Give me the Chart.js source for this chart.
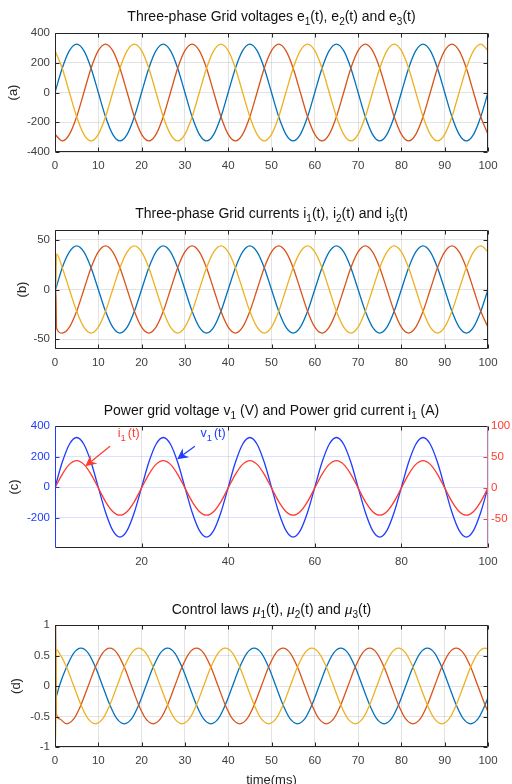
<!DOCTYPE html>
<html>
<head>
<meta charset="utf-8">
<script src="https://cdn.jsdelivr.net/npm/chart.js@4.4.1/dist/chart.umd.min.js"></script>
<style>
  body { margin: 0; width: 512px; height: 784px; background: #fff; position: relative; overflow: hidden; font-family: "Liberation Sans", Arial, sans-serif; }
  .panel { position: absolute; left: 0; width: 512px; }
  .title { position: absolute; left: 55px; width: 433px; text-align: center; font-size: 14px; line-height: 16px; color: #111; white-space: nowrap; z-index: 2; }
  .title sub { font-size: 10px; vertical-align: baseline; position: relative; top: 4px; }
  .title i { font-family: "Liberation Serif", serif; font-size: 15.5px; }
</style>
</head>
<body>

<div class="title" style="top:8px">Three-phase Grid voltages e<sub>1</sub>(t), e<sub>2</sub>(t) and e<sub>3</sub>(t)</div>
<div class="title" style="top:205px">Three-phase Grid currents i<sub>1</sub>(t), i<sub>2</sub>(t) and i<sub>3</sub>(t)</div>
<div class="title" style="top:402px">Power grid voltage v<sub>1</sub> (V) and Power grid current i<sub>1</sub> (A)</div>
<div class="title" style="top:601px">Control laws <i>μ</i><sub>1</sub>(t), <i>μ</i><sub>2</sub>(t) and <i>μ</i><sub>3</sub>(t)</div>

<div class="panel" style="top:0"><canvas id="chartA" width="512" height="196"></canvas></div>
<div class="panel" style="top:196px"><canvas id="chartB" width="512" height="196"></canvas></div>
<div class="panel" style="top:392px"><canvas id="chartC" width="512" height="196"></canvas></div>
<div class="panel" style="top:588px"><canvas id="chartD" width="512" height="200"></canvas></div>

<script>
// Valores (tiempo en ms)

const timeMs = [
  0, 1.67, 3.33, 5, 6.67, 8.33, 10, 11.67, 13.33, 15, 16.67, 18.33,
  20, 21.67, 23.33, 25, 26.67, 28.33, 30, 31.67, 33.33, 35, 36.67, 38.33,
  40, 41.67, 43.33, 45, 46.67, 48.33, 50, 51.67, 53.33, 55, 56.67, 58.33,
  60, 61.67, 63.33, 65, 66.67, 68.33, 70, 71.67, 73.33, 75, 76.67, 78.33,
  80, 81.67, 83.33, 85, 86.67, 88.33, 90, 91.67, 93.33, 95, 96.67, 98.33,
  100
];

// (a) tensiones de red
const e1 = [
  0, 163, 281, 325, 281, 163, 0, -163, -281, -325, -281, -163,
  0, 163, 281, 325, 281, 163, 0, -163, -281, -325, -281, -163,
  0, 163, 281, 325, 281, 163, 0, -163, -281, -325, -281, -163,
  0, 163, 281, 325, 281, 163, 0, -163, -281, -325, -281, -163,
  0, 163, 281, 325, 281, 163, 0, -163, -281, -325, -281, -163,
  0
];
const e2 = [
  -281, -325, -281, -163, 0, 163, 281, 325, 281, 163, 0, -163,
  -281, -325, -281, -163, 0, 163, 281, 325, 281, 163, 0, -163,
  -281, -325, -281, -163, 0, 163, 281, 325, 281, 163, 0, -163,
  -281, -325, -281, -163, 0, 163, 281, 325, 281, 163, 0, -163,
  -281, -325, -281, -163, 0, 163, 281, 325, 281, 163, 0, -163,
  -281
];
const e3 = [
  281, 163, 0, -163, -281, -325, -281, -163, 0, 163, 281, 325,
  281, 163, 0, -163, -281, -325, -281, -163, 0, 163, 281, 325,
  281, 163, 0, -163, -281, -325, -281, -163, 0, 163, 281, 325,
  281, 163, 0, -163, -281, -325, -281, -163, 0, 163, 281, 325,
  281, 163, 0, -163, -281, -325, -281, -163, 0, 163, 281, 325,
  281
];

// (b) corrientes de red (con el arranque en t = 0)
const timeB = [
  0, 0.2, 0.35, 1.67, 3.33, 5, 6.67, 8.33, 10, 11.67, 13.33, 15, 16.67, 18.33,
  20, 21.67, 23.33, 25, 26.67, 28.33, 30, 31.67, 33.33, 35, 36.67, 38.33,
  40, 41.67, 43.33, 45, 46.67, 48.33, 50, 51.67, 53.33, 55, 56.67, 58.33,
  60, 61.67, 63.33, 65, 66.67, 68.33, 70, 71.67, 73.33, 75, 76.67, 78.33,
  80, 81.67, 83.33, 85, 86.67, 88.33, 90, 91.67, 93.33, 95, 96.67, 98.33,
  100
];
const i1 = [
  0, 1, 3, 22, 38, 44, 38, 22, 0, -22, -38, -44, -38, -22,
  0, 22, 38, 44, 38, 22, 0, -22, -38, -44, -38, -22,
  0, 22, 38, 44, 38, 22, 0, -22, -38, -44, -38, -22,
  0, 22, 38, 44, 38, 22, 0, -22, -38, -44, -38, -22,
  0, 22, 38, 44, 38, 22, 0, -22, -38, -44, -38, -22,
  0
];
const i2 = [
  0, 0, -39, -44, -38, -22, 0, 22, 38, 44, 38, 22, 0, -22,
  -38, -44, -38, -22, 0, 22, 38, 44, 38, 22, 0, -22,
  -38, -44, -38, -22, 0, 22, 38, 44, 38, 22, 0, -22,
  -38, -44, -38, -22, 0, 22, 38, 44, 38, 22, 0, -22,
  -38, -44, -38, -22, 0, 22, 38, 44, 38, 22, 0, -22,
  -38
];
const i3 = [
  0, 0, 36, 22, 0, -22, -38, -44, -38, -22, 0, 22, 38, 44,
  38, 22, 0, -22, -38, -44, -38, -22, 0, 22, 38, 44,
  38, 22, 0, -22, -38, -44, -38, -22, 0, 22, 38, 44,
  38, 22, 0, -22, -38, -44, -38, -22, 0, 22, 38, 44,
  38, 22, 0, -22, -38, -44, -38, -22, 0, 22, 38, 44,
  38
];

// (c) tensión v1 (V) y corriente i1 (A)
const v1 = [
  0, 163, 281, 325, 281, 163, 0, -163, -281, -325, -281, -163,
  0, 163, 281, 325, 281, 163, 0, -163, -281, -325, -281, -163,
  0, 163, 281, 325, 281, 163, 0, -163, -281, -325, -281, -163,
  0, 163, 281, 325, 281, 163, 0, -163, -281, -325, -281, -163,
  0, 163, 281, 325, 281, 163, 0, -163, -281, -325, -281, -163,
  0
];
const i1c = [
  0, 22, 38, 44, 38, 22, 0, -22, -38, -44, -38, -22,
  0, 22, 38, 44, 38, 22, 0, -22, -38, -44, -38, -22,
  0, 22, 38, 44, 38, 22, 0, -22, -38, -44, -38, -22,
  0, 22, 38, 44, 38, 22, 0, -22, -38, -44, -38, -22,
  0, 22, 38, 44, 38, 22, 0, -22, -38, -44, -38, -22,
  0
];

// (d) leyes de control
const timeD = [
  0, 0.15, 0.3, 1, 2.67, 4.33, 6, 7.67, 9.33, 11, 12.67, 14.33, 16, 17.67, 19.33,
  21, 22.67, 24.33, 26, 27.67, 29.33, 31, 32.67, 34.33, 36, 37.67, 39.33,
  41, 42.67, 44.33, 46, 47.67, 49.33, 51, 52.67, 54.33, 56, 57.67, 59.33,
  61, 62.67, 64.33, 66, 67.67, 69.33, 71, 72.67, 74.33, 76, 77.67, 79.33,
  81, 82.67, 84.33, 86, 87.67, 89.33, 91, 92.67, 94.33, 96, 97.67, 99.33,
  100
];
const mu1 = [
  -0.19, -0.19, -0.17,
  0, 0.31, 0.54, 0.62, 0.54, 0.31, 0, -0.31, -0.54, -0.62, -0.54, -0.31,
  0, 0.31, 0.54, 0.62, 0.54, 0.31, 0, -0.31, -0.54, -0.62, -0.54, -0.31,
  0, 0.31, 0.54, 0.62, 0.54, 0.31, 0, -0.31, -0.54, -0.62, -0.54, -0.31,
  0, 0.31, 0.54, 0.62, 0.54, 0.31, 0, -0.31, -0.54, -0.62, -0.54, -0.31,
  0, 0.31, 0.54, 0.62, 0.54, 0.31, 0, -0.31, -0.54, -0.62, -0.54, -0.31,
  -0.19
];
const mu2 = [
  1, 1, -0.45,
  -0.54, -0.62, -0.54, -0.31, 0, 0.31, 0.54, 0.62, 0.54, 0.31, 0, -0.31,
  -0.54, -0.62, -0.54, -0.31, 0, 0.31, 0.54, 0.62, 0.54, 0.31, 0, -0.31,
  -0.54, -0.62, -0.54, -0.31, 0, 0.31, 0.54, 0.62, 0.54, 0.31, 0, -0.31,
  -0.54, -0.62, -0.54, -0.31, 0, 0.31, 0.54, 0.62, 0.54, 0.31, 0, -0.31,
  -0.54, -0.62, -0.54, -0.31, 0, 0.31, 0.54, 0.62, 0.54, 0.31, 0, -0.31,
  -0.42
];
const mu3 = [
  -1, -1, 0.6,
  0.54, 0.31, 0, -0.31, -0.54, -0.62, -0.54, -0.31, 0, 0.31, 0.54, 0.62,
  0.54, 0.31, 0, -0.31, -0.54, -0.62, -0.54, -0.31, 0, 0.31, 0.54, 0.62,
  0.54, 0.31, 0, -0.31, -0.54, -0.62, -0.54, -0.31, 0, 0.31, 0.54, 0.62,
  0.54, 0.31, 0, -0.31, -0.54, -0.62, -0.54, -0.31, 0, 0.31, 0.54, 0.62,
  0.54, 0.31, 0, -0.31, -0.54, -0.62, -0.54, -0.31, 0, 0.31, 0.54, 0.62,
  0.61
];

// Marcas de los ejes
const xTicks = [0, 10, 20, 30, 40, 50, 60, 70, 80, 90, 100];
const xTicksC = [20, 40, 60, 80, 100];
const yTicksA = [-400, -200, 0, 200, 400];
const yTicksB = [-50, 0, 50];
const yTicksCLeft = [-200, 0, 200, 400];
const yTicksCRight = [-50, 0, 50, 100];
const yTicksD = [-1, -0.5, 0, 0.5, 1];

// Estilos
const FONT = '"Liberation Sans", Arial, sans-serif';
const BLUE = '#0072BD';
const ORANGE = '#D95319';
const YELLOW = '#EDB120';
const BLUE_C = '#1f3cff';
const RED_C = '#ff3a2e';
const AXIS = '#262626';
const TICK_TXT = '#404040';
const GRID = 'rgba(0,0,0,0.11)';

// Caja estilo MATLAB con marcas hacia dentro
const boxPlugin = {
  id: 'box',
  afterDraw(chart, args, o) {
    const { ctx, chartArea: a, scales } = chart;
    const L = Math.round(a.left) + 0.5, R = Math.round(a.right) - 0.5;
    const T = Math.round(a.top) + 0.5, B = Math.round(a.bottom) - 0.5;
    const len = 4;
    ctx.save();
    ctx.lineWidth = 1;
    const seg = (x1, y1, x2, y2, c) => {
      ctx.strokeStyle = c;
      ctx.beginPath(); ctx.moveTo(x1, y1); ctx.lineTo(x2, y2); ctx.stroke();
    };
    scales.x.ticks.forEach(t => {
      const px = Math.round(scales.x.getPixelForValue(t.value)) + 0.5;
      seg(px, B, px, B - len, o.bottom);
      seg(px, T, px, T + len, o.top);
    });
    const yl = scales[o.leftAxis || 'y'];
    const yr = scales[o.rightAxis || 'y'];
    yl.ticks.forEach(t => {
      const py = Math.round(yl.getPixelForValue(t.value)) + 0.5;
      seg(L, py, L + len, py, o.leftTick || o.left);
    });
    yr.ticks.forEach(t => {
      const py = Math.round(yr.getPixelForValue(t.value)) + 0.5;
      seg(R, py, R - len, py, o.rightTick || o.right);
    });
    seg(L, T, R, T, o.top);
    seg(L, B, R, B, o.bottom);
    seg(L, T, L, B, o.left);
    seg(R, T, R, B, o.right);
    ctx.restore();
  }
};

// Anotaciones con flecha del panel (c), en coordenadas de datos
const notesC = [
  { text: 'i', sub: '1', tail: '(t)', color: RED_C, x: 17, y: 352, from: [12.7, 268], to: [7.0, 138] },
  { text: 'v', sub: '1', tail: '(t)', color: BLUE_C, x: 36.5, y: 352, from: [32.3, 268], to: [28.2, 183] }
];

const notesPlugin = {
  id: 'notes',
  afterDatasetsDraw(chart, args, o) {
    if (!o.items) return;
    const { ctx, scales } = chart;
    const xs = scales.x, ys = scales.y;
    ctx.save();
    o.items.forEach(n => {
      // texto con subíndice
      ctx.fillStyle = n.color;
      ctx.textBaseline = 'middle';
      ctx.textAlign = 'left';
      const big = '12.5px ' + FONT, small = '9.5px ' + FONT;
      ctx.font = big; const w1 = ctx.measureText(n.text).width;
      const w3 = ctx.measureText(n.tail).width;
      ctx.font = small; const w2 = ctx.measureText(n.sub).width + 2;
      const cx = xs.getPixelForValue(n.x), cy = ys.getPixelForValue(n.y);
      const x0 = cx - (w1 + w2 + w3) / 2;
      ctx.font = big; ctx.fillText(n.text, x0, cy);
      ctx.font = small; ctx.fillText(n.sub, x0 + w1, cy + 5);
      ctx.font = big; ctx.fillText(n.tail, x0 + w1 + w2, cy);
      // flecha
      const x1 = xs.getPixelForValue(n.from[0]), y1 = ys.getPixelForValue(n.from[1]);
      const x2 = xs.getPixelForValue(n.to[0]), y2 = ys.getPixelForValue(n.to[1]);
      const ang = Math.atan2(y2 - y1, x2 - x1);
      const hl = 11, hw = 5.5, notch = 3.5;
      ctx.strokeStyle = n.color;
      ctx.lineWidth = 1.2;
      ctx.beginPath(); ctx.moveTo(x1, y1);
      ctx.lineTo(x2 - Math.cos(ang) * (hl - notch), y2 - Math.sin(ang) * (hl - notch));
      ctx.stroke();
      ctx.translate(x2, y2); ctx.rotate(ang);
      ctx.beginPath();
      ctx.moveTo(0, 0); ctx.lineTo(-hl, -hw); ctx.lineTo(-hl + notch, 0); ctx.lineTo(-hl, hw);
      ctx.closePath(); ctx.fill();
      ctx.setTransform(1, 0, 0, 1, 0, 0);
    });
    ctx.restore();
  }
};

Chart.register(boxPlugin, notesPlugin);

function toPoints(time, values) {
  return time.map((t, i) => ({ x: t, y: values[i] }));
}

function lineSet(time, values, color, order, axis) {
  return {
    data: toPoints(time, values),
    borderColor: color,
    borderWidth: 1.3,
    pointRadius: 0,
    fill: false,
    cubicInterpolationMode: 'monotone',
    order: order,
    yAxisID: axis || 'y'
  };
}

function fixTicks(list) {
  return scale => { scale.ticks = list.map(v => ({ value: v })); };
}

const plainLabel = v => String(v);

function xScale(list, height, gridColor, title) {
  return {
    type: 'linear', min: 0, max: 100,
    afterBuildTicks: fixTicks(list),
    afterFit: s => { s.height = height; },
    grid: { color: gridColor || GRID, drawTicks: false },
    border: { display: false },
    ticks: { color: TICK_TXT, font: { size: 11.5, family: FONT }, padding: 7, maxRotation: 0, autoSkip: false, callback: plainLabel },
    title: title || { display: false }
  };
}

function yScale(min, max, list, label, labelPad, color, gridColor) {
  return {
    position: 'left', min: min, max: max,
    afterBuildTicks: fixTicks(list),
    afterFit: s => { s.width = 55; },
    grid: { color: gridColor || GRID, drawTicks: false },
    border: { display: false },
    ticks: { color: color || TICK_TXT, font: { size: 11.5, family: FONT }, padding: 5, callback: plainLabel },
    title: { display: true, text: label, color: AXIS, font: { size: 13, family: FONT }, padding: { top: labelPad, bottom: 0 } }
  };
}

function baseOptions(padTop, scales, plugins) {
  return {
    responsive: false,
    animation: false,
    devicePixelRatio: 1,
    layout: { padding: { top: padTop, right: scales.y2 ? 0 : 24, bottom: 0, left: 0 } },
    scales: scales,
    plugins: Object.assign({
      legend: { display: false },
      tooltip: { enabled: false },
      box: { left: AXIS, right: AXIS, top: AXIS, bottom: AXIS }
    }, plugins || {})
  };
}

// (a)
new Chart(document.getElementById('chartA'), {
  type: 'line',
  data: { datasets: [
    lineSet(timeMs, e1, BLUE, 2),
    lineSet(timeMs, e2, ORANGE, 1),
    lineSet(timeMs, e3, YELLOW, 0)
  ] },
  options: baseOptions(33, {
    x: xScale(xTicks, 44),
    y: yScale(-400, 400, yTicksA, '(a)', 6)
  })
});

// (b)
new Chart(document.getElementById('chartB'), {
  type: 'line',
  data: { datasets: [
    lineSet(timeB, i1, BLUE, 2),
    lineSet(timeB, i2, ORANGE, 1),
    lineSet(timeB, i3, YELLOW, 0)
  ] },
  options: baseOptions(34, {
    x: xScale(xTicks, 43),
    y: yScale(-60, 60, yTicksB, '(b)', 15)
  })
});

// (c)
const yC = yScale(-396, 400, yTicksCLeft, '(c)', 7, BLUE_C, 'rgba(40,70,255,0.16)');
const y2C = {
  position: 'right', min: -97, max: 100,
  afterBuildTicks: fixTicks(yTicksCRight),
  afterFit: s => { s.width = 24; },
  grid: { display: false, drawTicks: false },
  border: { display: false },
  ticks: { color: RED_C, font: { size: 11.5, family: FONT }, padding: 3, callback: plainLabel }
};
new Chart(document.getElementById('chartC'), {
  type: 'line',
  data: { datasets: [
    lineSet(timeMs, v1, BLUE_C, 1, 'y'),
    lineSet(timeMs, i1c, RED_C, 0, 'y2')
  ] },
  options: baseOptions(34, {
    x: xScale(xTicksC, 40),
    y: yC,
    y2: y2C
  }, {
    box: { left: BLUE_C, right: '#c27aa6', top: AXIS, bottom: AXIS, rightAxis: 'y2', rightTick: RED_C },
    notes: { items: notesC }
  })
});

// (d)
new Chart(document.getElementById('chartD'), {
  type: 'line',
  data: { datasets: [
    lineSet(timeD, mu1, BLUE, 2),
    lineSet(timeD, mu2, ORANGE, 1),
    lineSet(timeD, mu3, YELLOW, 0)
  ] },
  options: baseOptions(37, {
    x: xScale(xTicks, 41, GRID, { display: true, text: 'time(ms)', color: AXIS, font: { size: 13, family: FONT }, padding: { top: 0, bottom: 0 } }),
    y: yScale(-1, 1, yTicksD, '(d)', 9)
  })
});
</script>
</body>
</html>
